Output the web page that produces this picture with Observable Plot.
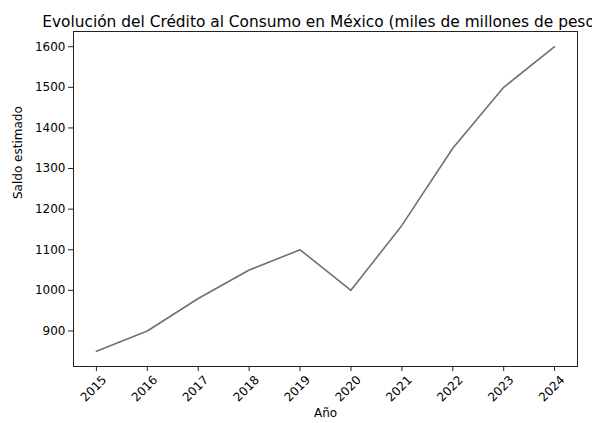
<!DOCTYPE html>
<html><head><meta charset="utf-8">
<script src="https://cdn.jsdelivr.net/npm/d3@7"></script>
<script src="https://cdn.jsdelivr.net/npm/@observablehq/plot@0.6"></script>
<style>
body{margin:0;background:#fff;}
svg{font-family:"DejaVu Sans",sans-serif;}
</style></head><body>
<div id="chart"></div>
<script>
const years = [2015, 2016, 2017, 2018, 2019, 2020, 2021, 2022, 2023, 2024];
const saldo = [850, 900, 980, 1050, 1100, 1000, 1160, 1350, 1500, 1600];
const yTicks = [900, 1000, 1100, 1200, 1300, 1400, 1500, 1600];
const title = "Evolución del Crédito al Consumo en México (miles de millones de pesos)";
const data = years.map((y, i) => ({year: y, value: saldo[i]}));

const chart = Plot.plot({
  width: 592,
  height: 423,
  marginLeft: 73,
  marginRight: 15,
  marginTop: 31,
  marginBottom: 57,
  style: {fontFamily: "DejaVu Sans, sans-serif", fontSize: "12px", color: "#000", background: "#fff", overflow: "hidden"},
  x: {domain: [2014.55, 2024.45]},
  y: {domain: [812.5, 1637.5]},
  marks: [
    Plot.axisY(yTicks, {tickSize: 5, tickPadding: 3, fontSize: 12, tickFormat: d => String(d), stroke: "#222", label: null}),
    Plot.axisX(years, {tickSize: 5, text: null, stroke: "#222", label: null}),
    Plot.text(years, {x: d => d, frameAnchor: "bottom", dy: 25, rotate: -45, text: d => String(d), fontSize: 12, fill: "#000"}),
    Plot.line(data, {x: "year", y: "value", stroke: "#707070", strokeWidth: 1.6}),
    Plot.frame({stroke: "#222", strokeWidth: 1}),
    Plot.text([title], {frameAnchor: "top", dy: -15, text: d => d, fontSize: 15.4, fill: "#000"}),
    Plot.text(["Saldo estimado"], {frameAnchor: "left", dx: -55, rotate: -90, text: d => d, fontSize: 12, fill: "#000"}),
    Plot.text(["Año"], {frameAnchor: "bottom", dy: 50, text: d => d, fontSize: 12, fill: "#000"})
  ]
});
document.getElementById("chart").appendChild(chart);
</script>
</body></html>
